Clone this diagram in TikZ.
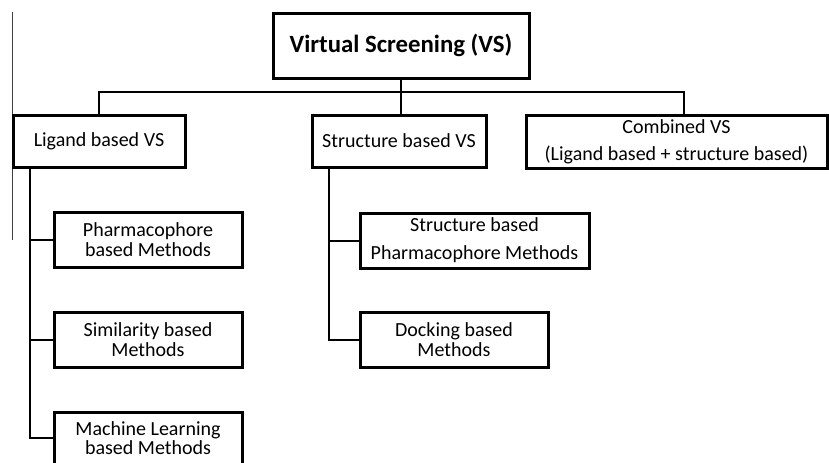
\documentclass[tikz,border=0pt]{standalone}
\usepackage{fontspec}
\setmainfont{Carlito}
\begin{document}
\begin{tikzpicture}[x=0.5pt, y=-0.5pt,
    box/.style={draw, line width=1.5pt, align=center, inner sep=0pt,
        font=\fontsize{10}{9.7}\selectfont},
    link/.style={line width=1pt}]
    \useasboundingbox (0,0) rectangle (829,462);

    % Frame edge
    \draw[line width=0.4pt, black!75] (12,12) -- (12,240);

    % Top box
    \node[box, minimum width=128pt, minimum height=32.5pt,
        font=\bfseries\fontsize{12.4}{14}\selectfont] (vs) at (401,45.5) {Virtual Screening (VS)};

    % Main branches
    \node[box, minimum width=86pt, minimum height=26pt] (lig) at (99,141) {Ligand based VS};
    \node[box, minimum width=87pt, minimum height=26pt] (str) at (399,141) {Structure based VS};
    \node[box, minimum width=150.5pt, minimum height=26.5pt] (cmb) at (676.5,141.5)
        {Combined VS\\[3.8pt](Ligand based + structure based)};

    % Ligand based methods
    \node[box, minimum width=94pt, minimum height=27.5pt] (pharm) at (148,239.5) {Pharmacophore\\based Methods};
    \node[box, minimum width=94pt, minimum height=27.5pt] (sim) at (148,339.5) {Similarity based\\Methods};
    \node[box, minimum width=94pt, minimum height=26pt] (ml) at (148,438) {Machine Learning\\based Methods};

    % Structure based methods
    \node[box, minimum width=114.5pt, minimum height=27.5pt] (sbp) at (474.5,240.5)
        {Structure based\\[4.3pt]Pharmacophore Methods};
    \node[box, minimum width=94pt, minimum height=27.5pt] (dock) at (454,339.5) {Docking based\\Methods};

    % Connectors
    \draw[link] (vs.south) -- (vs.south |- str.north);
    \draw[link] (lig.north) -- ++(0,-22) -| ([xshift=3.5pt]cmb.north);

    \coordinate (lspine) at ([xshift=9pt]lig.south west);
    \draw[link] (lspine) |- (ml.west);
    \foreach \n in {pharm, sim}
        \draw[link] (\n.west) -- (\n.west -| lspine);

    \coordinate (sspine) at ([xshift=9pt]str.south west);
    \draw[link] (sspine) |- (dock.west);
    \draw[link] (sbp.west) -- (sbp.west -| sspine);
\end{tikzpicture}
\end{document}
